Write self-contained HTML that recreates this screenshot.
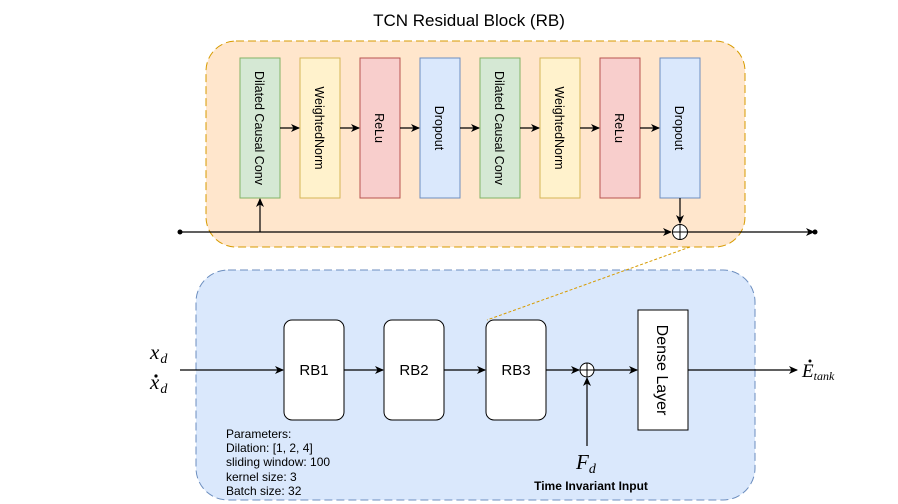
<!DOCTYPE html>
<html><head><meta charset="utf-8"><style>
html,body{margin:0;padding:0;background:#fff;}
svg{display:block;font-family:"Liberation Sans",sans-serif;}
.m{font-family:"Liberation Serif",serif;font-style:italic;}
</style></head><body>
<svg width="898" height="504" viewBox="0 0 898 504" xmlns="http://www.w3.org/2000/svg">
<defs>
<marker id="a" markerWidth="10" markerHeight="10" refX="8" refY="5" orient="auto" markerUnits="userSpaceOnUse">
<path d="M0,1 L9,5 L0,9 L2.5,5 Z" fill="#000"/></marker>
</defs>
<text x="469" y="26" font-size="17" text-anchor="middle">TCN Residual Block (RB)</text>
<rect x="206" y="41" width="539" height="206" rx="30" fill="#ffe6cc" stroke="#d79b00" stroke-dasharray="8 4"/>
<rect x="196" y="270" width="559" height="230" rx="32" fill="#dae8fc" stroke="#6c8ebf" stroke-dasharray="8 4"/>
<g stroke-width="1">
<rect x="240" y="58" width="40" height="140" fill="#d5e8d4" stroke="#82b366"/>
<rect x="300" y="58" width="40" height="140" fill="#fff2cc" stroke="#d6b656"/>
<rect x="360" y="58" width="40" height="140" fill="#f8cecc" stroke="#b85450"/>
<rect x="420" y="58" width="40" height="140" fill="#dae8fc" stroke="#6c8ebf"/>
<rect x="480" y="58" width="40" height="140" fill="#d5e8d4" stroke="#82b366"/>
<rect x="540" y="58" width="40" height="140" fill="#fff2cc" stroke="#d6b656"/>
<rect x="600" y="58" width="40" height="140" fill="#f8cecc" stroke="#b85450"/>
<rect x="660" y="58" width="40" height="140" fill="#dae8fc" stroke="#6c8ebf"/>
</g>
<g font-size="12.5" text-anchor="middle">
<text transform="translate(255,128) rotate(90)">Dilated Causal Conv</text>
<text transform="translate(315,128) rotate(90)">WeightedNorm</text>
<text transform="translate(375,128) rotate(90)">ReLu</text>
<text transform="translate(435,128) rotate(90)">Dropout</text>
<text transform="translate(495,128) rotate(90)">Dilated Causal Conv</text>
<text transform="translate(555,128) rotate(90)">WeightedNorm</text>
<text transform="translate(615,128) rotate(90)">ReLu</text>
<text transform="translate(675,128) rotate(90)">Dropout</text>
</g>
<g stroke="#000" stroke-width="1.2" fill="none" marker-end="url(#a)">
<line x1="280" y1="128" x2="299" y2="128"/>
<line x1="340" y1="128" x2="359" y2="128"/>
<line x1="400" y1="128" x2="419" y2="128"/>
<line x1="460" y1="128" x2="479" y2="128"/>
<line x1="520" y1="128" x2="539" y2="128"/>
<line x1="580" y1="128" x2="599" y2="128"/>
<line x1="640" y1="128" x2="659" y2="128"/>
<line x1="180" y1="232" x2="671" y2="232"/>
<line x1="260" y1="232" x2="260" y2="199"/>
<line x1="680" y1="198" x2="680" y2="223"/>
<line x1="688" y1="232" x2="814" y2="232"/>
</g>
<circle cx="180" cy="232" r="2.5" fill="#000"/>
<circle cx="815" cy="232" r="2.5" fill="#000"/>
<circle cx="680" cy="232" r="7.5" fill="#fff" stroke="#000"/>
<path d="M672.5,232 H687.5 M680,224.5 V239.5" stroke="#000"/>
<line x1="690" y1="247" x2="487" y2="320" stroke="#d79b00" stroke-dasharray="3 2"/>
<rect x="284" y="320" width="60" height="100" rx="8" fill="#fff" stroke="#000"/>
<rect x="384" y="320" width="60" height="100" rx="8" fill="#fff" stroke="#000"/>
<rect x="486" y="320" width="60" height="100" rx="8" fill="#fff" stroke="#000"/>
<rect x="638" y="310" width="50" height="120" fill="#fff" stroke="#000"/>
<g font-size="15" text-anchor="middle">
<text x="314" y="375">RB1</text>
<text x="414" y="375">RB2</text>
<text x="516" y="375">RB3</text>
<text transform="translate(657,370) rotate(90)" font-size="16">Dense Layer</text>
</g>
<g stroke="#000" stroke-width="1.2" fill="none" marker-end="url(#a)">
<line x1="180" y1="370" x2="283" y2="370"/>
<line x1="344" y1="370" x2="383" y2="370"/>
<line x1="444" y1="370" x2="485" y2="370"/>
<line x1="546" y1="370" x2="579" y2="370"/>
<line x1="594" y1="370" x2="637" y2="370"/>
<line x1="688" y1="370" x2="797" y2="370"/>
<line x1="587" y1="446" x2="587" y2="378"/>
</g>
<circle cx="587" cy="370" r="7" fill="#fff" stroke="#000"/>
<path d="M580,370 H594 M587,363 V377" stroke="#000"/>
<g class="m" font-size="21">
<text x="150" y="359">x<tspan font-size="14" dx="1" dy="4">d</tspan></text>
<text x="150" y="389">x<tspan font-size="14" dx="1" dy="4">d</tspan></text>
<text x="576" y="469">F<tspan font-size="14" dy="4">d</tspan></text>
<text x="802" y="377" font-size="19">E<tspan font-size="12" dy="3">tank</tspan></text>
</g>
<circle cx="156" cy="376" r="1.6" fill="#000"/>
<circle cx="810" cy="361" r="1.5" fill="#000"/>
<g font-size="12">
<text x="226" y="438">Parameters:</text>
<text x="226" y="452">Dilation: [1, 2, 4]</text>
<text x="226" y="466">sliding window: 100</text>
<text x="226" y="481">kernel size: 3</text>
<text x="226" y="495">Batch size: 32</text>
</g>
<text x="591" y="490" font-size="12" font-weight="bold" text-anchor="middle">Time Invariant Input</text>
</svg>
</body></html>
